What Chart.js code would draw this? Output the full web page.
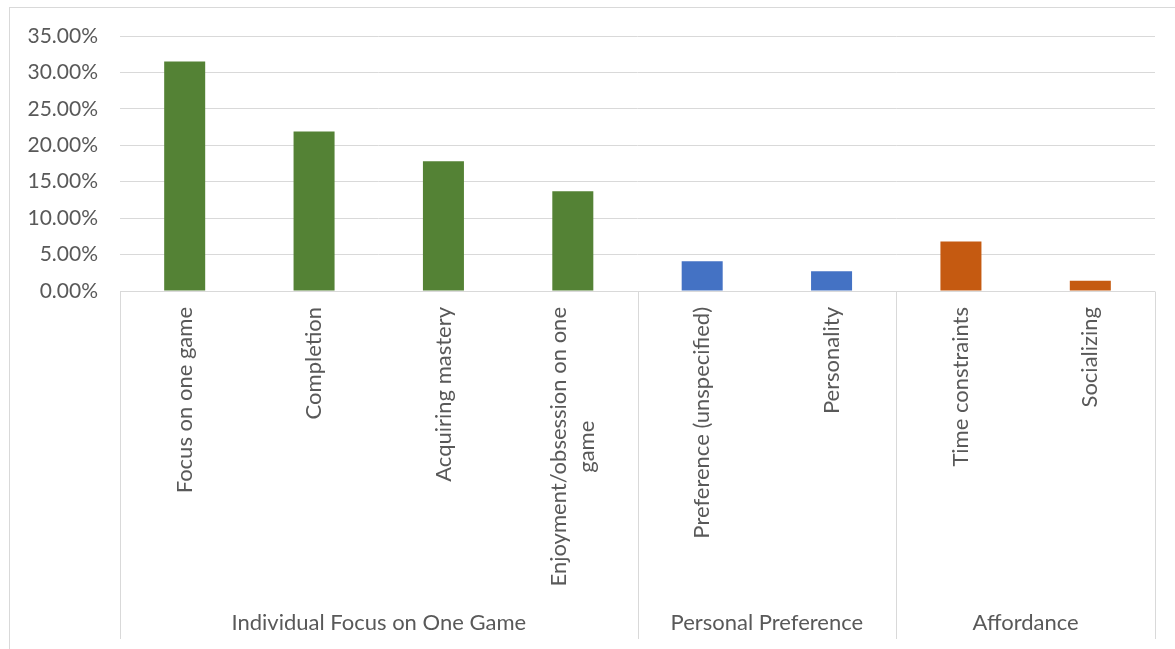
<!DOCTYPE html>
<html>
<head>
<meta charset="utf-8">
<script src="https://cdn.jsdelivr.net/npm/chart.js@4"></script>
<style>
html,body{margin:0;padding:0;background:#fff;}
#wrap{position:relative;width:1175px;height:649px;}
</style>
</head>
<body>
<div id="wrap"><canvas id="c" width="1175" height="649"></canvas></div>
<script>
// ---- data ----
const categories = [
  "Focus on one game",
  "Completion",
  "Acquiring mastery",
  ["Enjoyment/obsession on one", "game"],
  "Preference (unspecified)",
  "Personality",
  "Time constraints",
  "Socializing"
];
const values = [31.5, 21.9, 17.8, 13.7, 4.1, 2.7, 6.8, 1.4];
const groupNames = ["Individual Focus on One Game", "Personal Preference", "Affordance"];
const groupSizes = [4, 2, 2];
const groupColors = ["#548235", "#4472C4", "#C55A11"];
const yTicks = [0, 5, 10, 15, 20, 25, 30, 35];

const FONT = "Lato, 'Open Sans', sans-serif";
const TEXT = "#595959";
const LINE = "#d9d9d9";

const barColors = [];
groupSizes.forEach((n, g) => { for (let i = 0; i < n; i++) barColors.push(groupColors[g]); });

const axisPlugin = {
  id: 'axisBox',
  afterDraw(chart) {
    const ctx = chart.ctx;
    const xs = chart.scales.x;
    const area = chart.chartArea;
    const top = Math.round(area.bottom) + 0.5;
    const bottom = 639;
    ctx.save();
    // outer frame
    ctx.strokeStyle = LINE;
    ctx.lineWidth = 1;
    ctx.strokeRect(9.5, 7.5, 1200, 700);
    // category box
    ctx.beginPath();
    ctx.moveTo(area.left, top); ctx.lineTo(area.right, top);
    const step = (area.right - area.left) / categories.length;
    let idx = 0;
    const bounds = [0];
    groupSizes.forEach(n => { idx += n; bounds.push(idx); });
    bounds.forEach(b => {
      const x = Math.round(area.left + b * step) + 0.5;
      ctx.moveTo(x, top); ctx.lineTo(x, bottom);
    });
    ctx.stroke();
    // category labels (rotated)
    ctx.fillStyle = TEXT;
    ctx.font = "22px " + FONT;
    const lh = 28;
    categories.forEach((lab, i) => {
      const lines = Array.isArray(lab) ? lab : [lab];
      const x = xs.getPixelForValue(i);
      const yTop = area.bottom + 16;
      const W = Math.max(...lines.map(l => ctx.measureText(l).width));
      ctx.save();
      ctx.translate(x, yTop);
      ctx.rotate(-Math.PI / 2);
      ctx.textAlign = 'center';
      ctx.textBaseline = 'middle';
      lines.forEach((l, j) => {
        ctx.fillText(l, -W / 2, (j - (lines.length - 1) / 2) * lh);
      });
      ctx.restore();
    });
    // group labels
    ctx.textAlign = 'center';
    ctx.textBaseline = 'middle';
    let start = 0;
    groupNames.forEach((g, k) => {
      const x0 = area.left + start * step;
      const x1 = area.left + (start + groupSizes[k]) * step;
      ctx.fillText(g, (x0 + x1) / 2, 623);
      start += groupSizes[k];
    });
    ctx.restore();
  }
};

new Chart(document.getElementById('c'), {
  type: 'bar',
  data: {
    labels: categories,
    datasets: [{
      data: values,
      backgroundColor: barColors,
      borderWidth: 0,
      barPercentage: 0.317,
      categoryPercentage: 1.0
    }]
  },
  options: {
    responsive: false,
    animation: false,
    events: [],
    layout: { padding: { left: 0, top: 36, right: 20, bottom: 10 } },
    plugins: { legend: { display: false }, tooltip: { enabled: false }, title: { display: false } },
    scales: {
      x: {
        grid: { display: false, drawTicks: false },
        border: { display: false },
        ticks: { display: false },
        afterFit(s) { s.height = 348; }
      },
      y: {
        min: 0, max: 35,
        afterBuildTicks(s) { s.ticks = yTicks.map(v => ({ value: v })); },
        grid: { color: LINE, lineWidth: 1, drawTicks: false },
        border: { display: false },
        ticks: {
          color: TEXT,
          font: { family: FONT, size: 21 },
          padding: 22,
          callback: v => v.toFixed(2) + '%'
        },
        afterFit(s) { s.width = 120; }
      }
    }
  },
  plugins: [axisPlugin]
});
</script>
</body>
</html>
